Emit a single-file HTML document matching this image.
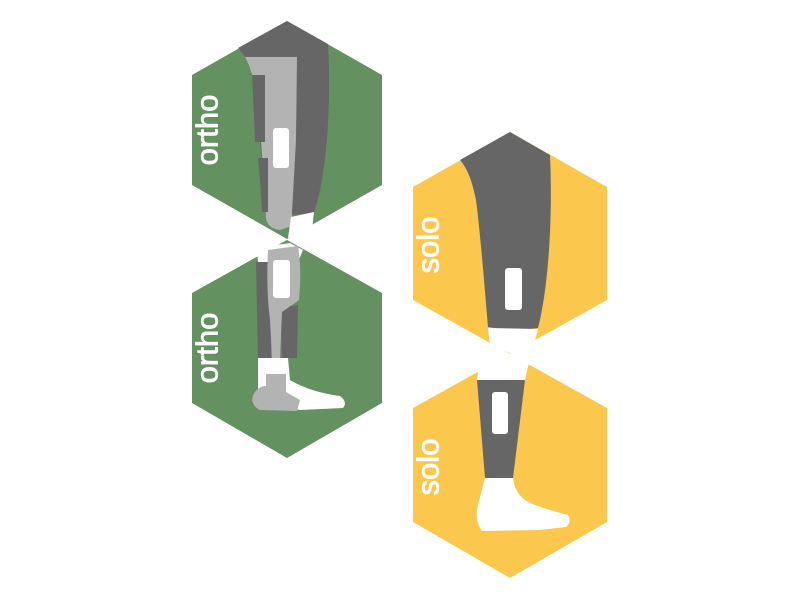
<!DOCTYPE html>
<html><head><style>html,body{margin:0;padding:0;background:#fff;}svg{display:block}</style></head>
<body>
<svg width="800" height="600" viewBox="0 0 800 600" xmlns="http://www.w3.org/2000/svg">
<g fill="#649160">
<polygon points="287,21 382,75 382,185 287,239 192,185 192,75"/>
<polygon points="287,240 382,293 382,403 287,458 192,403 192,293"/>
</g>
<g fill="#fbc84d">
<polygon points="510,132 607,187 607,300 510,354 413,300 413,187"/>
<polygon points="510,354 607,408 607,522 510,578 413,522 413,408"/>
</g>
<!-- ortho top leg -->
<path d="M238,48 L287,21 L328,44 C331,100 328,170 314,213 L266,217 C262,170 258,100 252,72 C248,60 243,53 238,48Z" fill="#666"/>
<path d="M245,57 L297,57 L296,140 L292,212 L266,214 C263,170 260,120 256,90 C253,75 249,64 245,57Z" fill="#b3b3b3"/>
<path d="M252,75 L265,75 L265,142 L255,142 C254,115 253,95 252,75Z" fill="#666"/>
<path d="M258,158 L268,158 L268,212 L262,212 C261,190 259,170 258,158Z" fill="#666"/>
<rect x="273" y="128" width="16" height="40" rx="3" fill="#fff"/>
<path d="M266,212 Q264,228 280,230 L292,226 L292,210 Z" fill="#b3b3b3"/>
<path d="M291,217 L314,212 L312,230 L288,238 Z" fill="#fff"/>
<!-- ortho bottom leg -->
<path d="M257,248 L290,243 L303,250 L298,262 L258,262Z" fill="#fff"/>
<path d="M256,262 L272,262 L271,358 L258,358 Z" fill="#666"/>
<path d="M280,308 L298,305 L297,358 L282,358Z" fill="#666"/>
<path d="M268,250 L298,246 Q302,270 299,300 L282,312 L280,358 L272,358 L270,320 Q266,290 268,250Z" fill="#b3b3b3"/>
<rect x="273" y="260" width="17" height="38" rx="3" fill="#fff"/>
<path d="M258,358 L288,358 L290,380 Q310,392 340,396 Q348,402 343,408 L300,410 L258,402 Z" fill="#fff"/>
<path d="M266,374 L286,374 L286,392 L300,400 L297,411 L260,410 Q250,405 253,395 Q258,386 266,386Z" fill="#b3b3b3"/>
<!-- solo top leg -->
<path d="M460,160 L510,132 L550,155 C553,220 548,290 538,328 Q512,332 488,327 C484,280 480,230 476,200 C472,180 467,168 460,160Z" fill="#666"/>
<path d="M488,328 L538,329 L534,345 L512,354 L490,345 Z" fill="#fff"/>
<rect x="505" y="268" width="17" height="42" rx="3" fill="#fff"/>
<!-- solo bottom leg -->
<path d="M480,358 L512,354 L529,362 L525,380 L477,380 Z" fill="#fff"/>
<path d="M477,380 L525,380 L513,478 L485,478 Z" fill="#666"/>
<rect x="492" y="392" width="16" height="42" rx="3" fill="#fff"/>
<path d="M485,478 L513,478 Q515,498 535,505 Q555,512 568,515 Q572,522 566,527 L540,530 L482,531 Q474,520 478,505 Z" fill="#fff"/>
<g fill="#fff" stroke="#fff" stroke-width="0.8" font-family="Liberation Sans, sans-serif" font-size="31" text-anchor="middle" dominant-baseline="central">
<text transform="translate(207,130) rotate(-90)">ortho</text>
<text transform="translate(207,348) rotate(-90)">ortho</text>
<text transform="translate(428,245) rotate(-90)">solo</text>
<text transform="translate(428,467) rotate(-90)">solo</text>
</g>
</svg>
</body></html>
